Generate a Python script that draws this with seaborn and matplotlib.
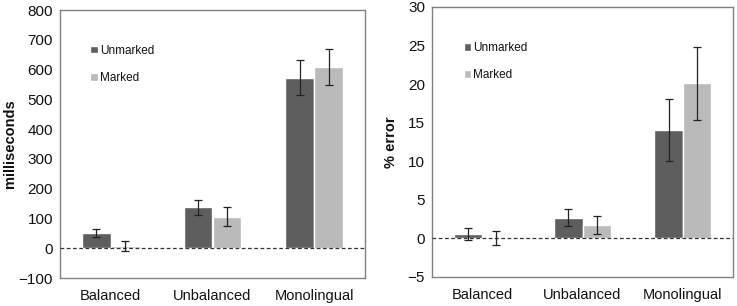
import numpy as np
import pandas as pd
import matplotlib
matplotlib.use("Agg")
import matplotlib.pyplot as plt
import seaborn as sns

groups = ["Balanced", "Unbalanced", "Monolingual"]
conditions = ["Unmarked", "Marked"]

rt_unmarked = [50, 137, 573]
rt_marked = [7, 106, 608]
rt_err_unmarked = [13, 26, 60]
rt_err_marked = [16, 33, 61]

err_unmarked = [0.6, 2.7, 14.1]
err_marked = [0.05, 1.7, 20.1]
err_err_unmarked = [0.75, 1.1, 4.0]
err_err_marked = [0.95, 1.15, 4.75]

colors = {"Unmarked": "#5e5e5e", "Marked": "#bababa"}

sns.set_theme(style="white")
plt.rcParams['font.family'] = ['Liberation Sans', 'DejaVu Sans']

fig = plt.figure(figsize=(7.37, 3.06), dpi=100)
ax1 = fig.add_axes([60/737, 1 - 278/306, 305/737, 268/306])
ax2 = fig.add_axes([432/737, 1 - 277/306, 301/737, 270/306])


def panel(ax, um, mk, eu, em, ylim, yticks, ylabel, leg_anchor, label_x):
    df = pd.DataFrame({
        "group": groups * 2,
        "cond": ["Unmarked"] * 3 + ["Marked"] * 3,
        "value": list(um) + list(mk),
        "err": list(eu) + list(em),
    })
    sns.barplot(data=df, x="group", y="value", hue="cond", order=groups,
                hue_order=conditions, palette=colors, errorbar=None,
                width=0.57, edgecolor="white", linewidth=1.0, ax=ax,
                saturation=1)
    for cont, cond in zip(ax.containers, conditions):
        sub = df[df.cond == cond].set_index("group").loc[groups]
        xs = [p.get_x() + p.get_width() / 2 for p in cont.patches]
        ax.errorbar(xs, sub["value"].values, yerr=sub["err"].values,
                    fmt="none", ecolor="#222222", elinewidth=0.9,
                    capsize=3.2, capthick=0.9, zorder=5)
    ax.axhline(0, color="#333333", linestyle=(0, (3, 2)), linewidth=0.9, zorder=4)
    ax.set_ylim(*ylim)
    ax.set_yticks(yticks)
    ax.set_xlim(-0.5, 2.5)
    ax.tick_params(axis="y", length=0, labelsize=11, colors="#111111", pad=5)
    ax.tick_params(axis="x", length=0, labelsize=10.5, colors="#111111", pad=8)
    ax.set_xlabel("")
    ax.set_ylabel(ylabel, fontsize=10.5, fontweight="bold", color="#111111")
    ax.yaxis.set_label_coords(label_x, 0.5)
    for s in ax.spines.values():
        s.set_color("#808080")
        s.set_linewidth(1.0)
    leg = ax.legend(loc="upper left", bbox_to_anchor=leg_anchor, frameon=False,
                    fontsize=8.5, handlelength=0.6, handleheight=0.6,
                    handletextpad=0.2, labelspacing=1.3)
    for t in leg.get_texts():
        t.set_color("#111111")


panel(ax1, rt_unmarked, rt_marked, rt_err_unmarked, rt_err_marked,
      (-100, 800), range(-100, 801, 100), "milliseconds", (0.065, 0.91), -0.142)
panel(ax2, err_unmarked, err_marked, err_err_unmarked, err_err_marked,
      (-5, 30), range(-5, 31, 5), "% error", (0.07, 0.91), -0.113)

fig.savefig("out.png", dpi=100)
